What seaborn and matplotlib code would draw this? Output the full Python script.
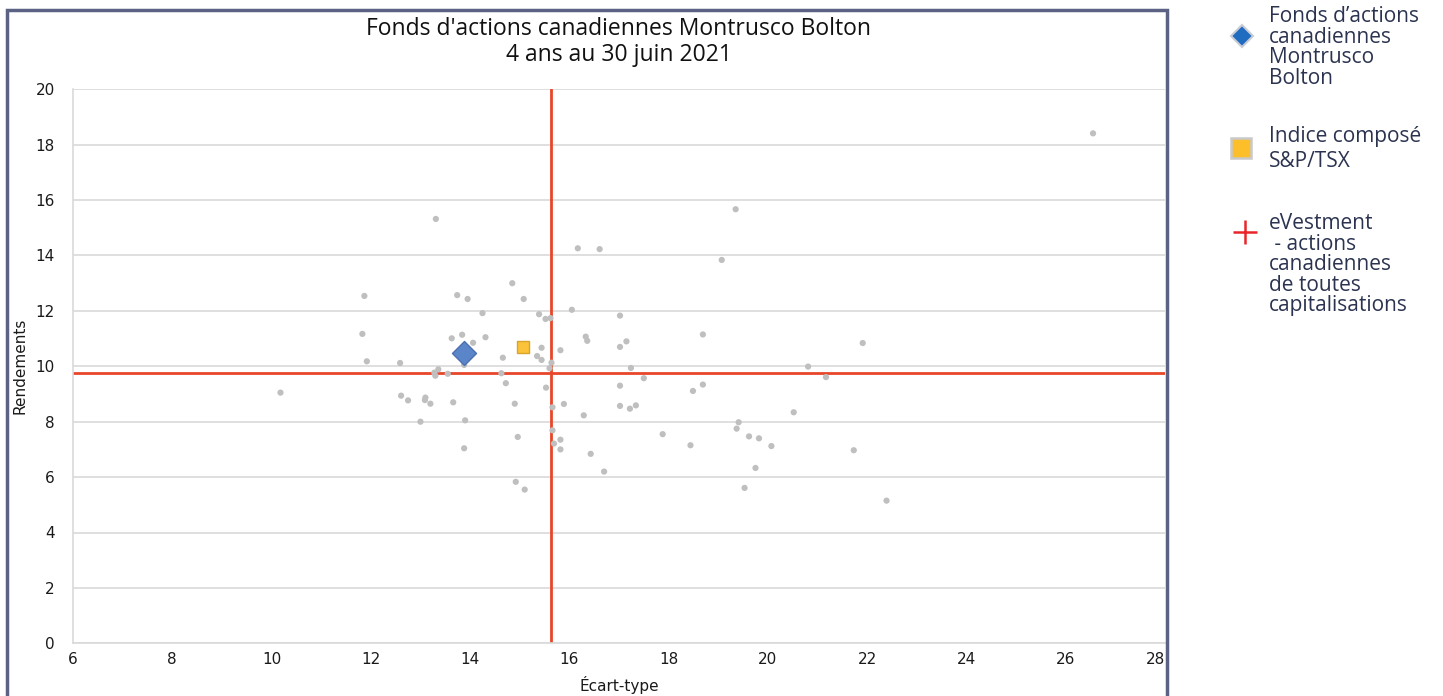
import matplotlib
matplotlib.use('Agg')
import matplotlib.pyplot as plt
import seaborn as sns
import pandas as pd
from matplotlib.lines import Line2D
from matplotlib.patches import Rectangle

# peer universe (eVestment - actions canadiennes de toutes capitalisations)
peer_x = [14.85, 11.87, 13.74, 13.95, 15.08, 14.25, 16.05, 15.39, 15.52, 15.62,
          11.83, 13.63, 13.84, 14.06, 14.31, 16.33, 16.36, 15.44, 15.82, 14.66,
          15.35, 15.44, 15.64, 15.60, 11.92, 12.59, 13.88, 13.36, 13.28, 13.30,
          13.55, 14.63, 14.72, 15.53, 10.18, 12.61, 12.75, 13.10, 13.09, 13.20,
          13.66, 14.90, 15.66, 15.89, 16.29, 13.00, 13.90, 14.96, 15.66, 15.82,
          15.69, 15.82, 16.43, 13.88, 14.92, 15.10, 16.17, 16.61, 19.07, 17.02,
          17.02, 17.15, 18.69, 21.91, 17.24, 20.81, 21.17, 17.50, 17.02, 18.69,
          18.49, 17.02, 17.22, 17.34, 20.52, 17.88, 19.41, 19.37, 19.62, 19.82,
          20.07, 18.44, 16.70, 19.75, 19.53, 21.73, 22.39, 26.55, 13.31, 19.35]
peer_y = [13.00, 12.54, 12.57, 12.43, 12.43, 11.92, 12.04, 11.88, 11.71, 11.74,
          11.17, 11.01, 11.14, 10.85, 11.05, 11.07, 10.92, 10.67, 10.58, 10.31,
          10.37, 10.23, 10.13, 9.93, 10.18, 10.12, 10.05, 9.89, 9.77, 9.66,
          9.73, 9.75, 9.39, 9.23, 9.05, 8.94, 8.77, 8.87, 8.78, 8.65,
          8.70, 8.65, 8.52, 8.64, 8.23, 8.00, 8.05, 7.45, 7.69, 7.35,
          7.21, 7.00, 6.84, 7.04, 5.83, 5.55, 14.26, 14.23, 13.84, 11.83,
          10.70, 10.90, 11.15, 10.84, 9.94, 9.99, 9.61, 9.57, 9.30, 9.34,
          9.11, 8.57, 8.47, 8.59, 8.34, 7.55, 7.98, 7.75, 7.47, 7.40,
          7.12, 7.15, 6.20, 6.33, 5.61, 6.97, 5.15, 18.41, 15.32, 15.67]

fund_x = [13.88]
fund_y = [10.49]
index_x = [15.06]
index_y = [10.71]
median_x = 15.64
median_y = 9.76

title = "Fonds d'actions canadiennes Montrusco Bolton\n4 ans au 30 juin 2021"
legend_labels = ["Fonds d\u2019actions\ncanadiennes\nMontrusco\nBolton",
                 "Indice composé\nS&P/TSX",
                 "eVestment\n - actions\ncanadiennes\nde toutes\ncapitalisations"]

peers = pd.DataFrame({'x': peer_x, 'y': peer_y})
fund = pd.DataFrame({'x': fund_x, 'y': fund_y})
index = pd.DataFrame({'x': index_x, 'y': index_y})

sns.set_style('white')
plt.rcParams['font.family'] = ['DejaVu Sans']

W, H = 1443, 696
fig = plt.figure(figsize=(W / 100, H / 100), dpi=100)
ax = fig.add_axes([73 / W, 1 - 643.3 / H, (1165 - 73) / W, (643.3 - 89.3) / H])

red = '#e8462a'
ax.axhline(median_y, color=red, lw=2, zorder=2)
ax.axvline(median_x, color=red, lw=2, zorder=2)
sns.scatterplot(data=peers, x='x', y='y', ax=ax, color='#bfbfbf', s=20,
                edgecolor='none', zorder=3)
sns.scatterplot(data=fund, x='x', y='y', ax=ax, marker='D', color='#5b85c9',
                s=150, edgecolor='#4a70b0', linewidth=1, zorder=4)
sns.scatterplot(data=index, x='x', y='y', ax=ax, marker='s', color='#fcc33a',
                s=85, edgecolor='#d8a52a', linewidth=1, zorder=4)

ax.set_xlim(6, 28)
ax.set_ylim(0, 20)
ax.set_xticks(range(6, 29, 2))
ax.set_yticks(range(0, 21, 2))
ax.yaxis.grid(True, color='#d9d9d9', lw=1.2)
ax.xaxis.grid(False)
ax.set_axisbelow(True)
for s in ['top', 'right']:
    ax.spines[s].set_visible(False)
for s in ['left', 'bottom']:
    ax.spines[s].set_color('#d9d9d9')
    ax.spines[s].set_linewidth(1.2)
ax.tick_params(axis='both', length=0, labelsize=11, colors='#1a1a1a')
ax.tick_params(axis='y', pad=13)
ax.tick_params(axis='x', pad=6)
# last x label sits inside the frame
ax.get_xticklabels()[-1].set_horizontalalignment('right')
ax.set_xlabel('Écart-type', fontsize=11, color='#1a1a1a', labelpad=7)
ax.set_ylabel('Rendements', fontsize=11, color='#1a1a1a', labelpad=6)

fig.text(619 / W, 1 - 42 / H, title, ha='center', va='center', fontsize=16.5,
         family=['Open Sans', 'DejaVu Sans'], color='#111111', linespacing=1.1)

# outer frame around the chart
fig.add_artist(Rectangle((7 / W, -0.05), (1167 - 7) / W, 1.05 - 10 / H,
                         transform=fig.transFigure, fill=False,
                         edgecolor='#5b6283', lw=2.5))

# legend drawn on the right
navy = '#2b3350'
leg_font = ['Open Sans', 'DejaVu Sans']
fig.add_artist(Line2D([1241.5 / W], [1 - 36 / H], marker='D', markersize=11,
                      color='#1f6cc0', markeredgecolor='#c8ccd4', markeredgewidth=1.5,
                      transform=fig.transFigure))
fig.add_artist(Line2D([1241 / W], [1 - 148 / H], marker='s', markersize=14,
                      color='#fcbf2a', markeredgecolor='#c9c9c9', markeredgewidth=1.8,
                      transform=fig.transFigure))
fig.add_artist(Line2D([1245 / W], [1 - 232 / H], marker='+', markersize=17,
                      color='#e8262a', markeredgewidth=1.8,
                      transform=fig.transFigure))
fig.text(1269 / W, 1 - 6 / H, legend_labels[0], ha='left', va='top', fontsize=15,
         family=leg_font, color=navy, linespacing=0.97)
fig.text(1269 / W, 1 - 126 / H, legend_labels[1], ha='left', va='top', fontsize=15,
         family=leg_font, color=navy, linespacing=1.22)
fig.text(1269 / W, 1 - 213 / H, legend_labels[2], ha='left', va='top', fontsize=15,
         family=leg_font, color=navy, linespacing=0.97)

plt.savefig('out.png', dpi=100)
